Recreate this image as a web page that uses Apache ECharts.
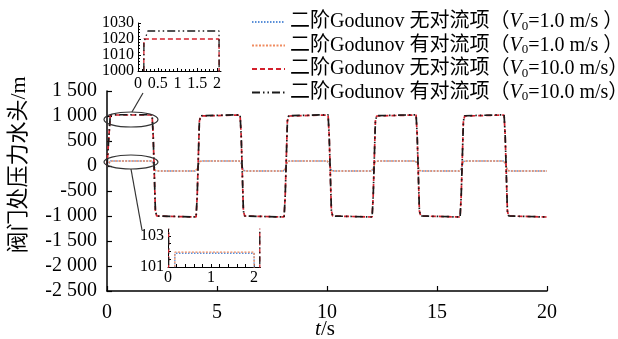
<!DOCTYPE html>
<html>
<head>
<meta charset="utf-8">
<script src="https://cdn.jsdelivr.net/npm/echarts@6/dist/echarts.min.js"></script>
<style>html,body{margin:0;padding:0;background:#fff;}#c{width:618px;height:339px;}</style>
</head>
<body>
<div id="c"></div>
<script>
// ---- data ----
const seriesNames = [
  '二阶Godunov 无对流项(V0=1.0 m/s )',
  '二阶Godunov 有对流项(V0=1.0 m/s )',
  '二阶Godunov 无对流项(V0=10.0 m/s)',
  '二阶Godunov 有对流项(V0=10.0 m/s)'
];
const legendTexts = [
  ['二阶Godunov 无对流项（', '1.0 m/s ）'],
  ['二阶Godunov 有对流项（', '1.0 m/s ）'],
  ['二阶Godunov 无对流项（', '10.0 m/s）'],
  ['二阶Godunov 有对流项（', '10.0 m/s）']
];
const xTicks = [0, 5, 10, 15, 20];
const yTickLabels = ['-2 500', '-2 000', '-1 500', '-1 000', '-500', '0', '500', '1 000', '1 500'];
const inset1XLabels = [0, 0.5, 1, 1.5, 2];
const inset1YLabels = [1000, 1010, 1020, 1030];
const inset2XLabels = [0, 1, 2];
const inset2YLabels = [101, 103];

// V0 = 1.0 m/s, without convection term (blue dotted)
const blue1 = [[0,0],[0.16,101.88],[2.0,101.88],[2.1,60],[2.2,-90],[2.26,-100],[2.35,-101.88],
  [4.0,-101.88],[4.1,-60],[4.2,90],[4.26,100],[4.35,101.88],
  [6.0,101.88],[6.1,60],[6.2,-90],[6.26,-100],[6.35,-101.88],
  [8.0,-101.88],[8.1,-60],[8.2,90],[8.26,100],[8.35,101.88],
  [10.0,101.88],[10.1,60],[10.2,-90],[10.26,-100],[10.35,-101.88],
  [12.0,-101.88],[12.1,-60],[12.2,90],[12.26,100],[12.35,101.88],
  [14.0,101.88],[14.1,60],[14.2,-90],[14.26,-100],[14.35,-101.88],
  [16.0,-101.88],[16.1,-60],[16.2,90],[16.26,100],[16.35,101.88],
  [18.0,101.88],[18.1,60],[18.2,-90],[18.26,-100],[18.35,-101.88],[20,-101.88]];
// V0 = 1.0 m/s, with convection term (orange dotted)
const orange1 = [[0,0],[0.16,101.95],[2.0,101.95],[2.1,60],[2.2,-90],[2.26,-100],[2.35,-101.95],
  [4.0,-101.95],[4.1,-60],[4.2,90],[4.26,100],[4.35,101.95],
  [6.0,101.95],[6.1,60],[6.2,-90],[6.26,-100],[6.35,-101.95],
  [8.0,-101.95],[8.1,-60],[8.2,90],[8.26,100],[8.35,101.95],
  [10.0,101.95],[10.1,60],[10.2,-90],[10.26,-100],[10.35,-101.95],
  [12.0,-101.95],[12.1,-60],[12.2,90],[12.26,100],[12.35,101.95],
  [14.0,101.95],[14.1,60],[14.2,-90],[14.26,-100],[14.35,-101.95],
  [16.0,-101.95],[16.1,-60],[16.2,90],[16.26,100],[16.35,101.95],
  [18.0,101.95],[18.1,60],[18.2,-90],[18.26,-100],[18.35,-101.95],[20,-101.95]];
// V0 = 10.0 m/s, without convection term (red dashed)
const red10 = [[0,0],[0.15,1020],[2.05,1020],[2.1,600],[2.2,-900],[2.26,-1000],[2.35,-1020],
  [4.05,-1020],[4.1,-600],[4.2,900],[4.26,1000],[4.35,1020],
  [6.05,1020],[6.1,600],[6.2,-900],[6.26,-1000],[6.35,-1020],
  [8.05,-1020],[8.1,-600],[8.2,900],[8.26,1000],[8.35,1020],
  [10.05,1020],[10.1,600],[10.2,-900],[10.26,-1000],[10.35,-1020],
  [12.05,-1020],[12.1,-600],[12.2,900],[12.26,1000],[12.35,1020],
  [14.05,1020],[14.1,600],[14.2,-900],[14.26,-1000],[14.35,-1020],
  [16.05,-1020],[16.1,-600],[16.2,900],[16.26,1000],[16.35,1020],
  [18.05,1020],[18.1,600],[18.2,-900],[18.26,-1000],[18.35,-1020],[20,-1020]];
// V0 = 10.0 m/s, with convection term (black dash-dot-dot)
const black10 = [[0,0],[0.15,1018],[0.25,1025],[2.05,1025],[2.1,600],[2.2,-900],[2.26,-1000],[2.35,-1020],
  [4.05,-1020],[4.1,-600],[4.2,900],[4.26,1005],[4.35,1025],
  [6.05,1025],[6.1,600],[6.2,-900],[6.26,-1000],[6.35,-1020],
  [8.05,-1020],[8.1,-600],[8.2,900],[8.26,1005],[8.35,1025],
  [10.05,1025],[10.1,600],[10.2,-900],[10.26,-1000],[10.35,-1020],
  [12.05,-1020],[12.1,-600],[12.2,900],[12.26,1005],[12.35,1025],
  [14.05,1025],[14.1,600],[14.2,-900],[14.26,-1000],[14.35,-1020],
  [16.05,-1020],[16.1,-600],[16.2,900],[16.26,1005],[16.35,1025],
  [18.05,1025],[18.1,600],[18.2,-900],[18.26,-1000],[18.35,-1020],[20,-1020]];

// ---- chart ----
const SERIF = "'Liberation Serif', 'Times New Roman', 'Noto Sans CJK SC', serif";
const chart = echarts.init(document.getElementById('c'), null, {renderer: 'canvas'});

const seriesData = [blue1, orange1, red10, black10];
const styles = [
  {color: '#5a8fd8', type: [1.5, 1.5], width: 1.5},
  {color: '#f08c60', type: [2, 1.5], width: 1.5},
  {color: '#d3202c', type: [5, 3], width: 1.7},
  {color: '#1a1a1a', type: [8, 3, 1.5, 3, 1.5, 3], width: 1.7}
];
const series = [];
for (let g = 0; g < 3; g++) {
  for (let i = 0; i < 4; i++) {
    series.push({
      name: seriesNames[i], type: 'line', xAxisIndex: g, yAxisIndex: g,
      data: seriesData[i], showSymbol: false, symbol: 'none', animation: false,
      clip: true, silent: true,
      lineStyle: {color: styles[i].color, type: styles[i].type, width: g === 0 ? styles[i].width : 1.3},
      itemStyle: {color: styles[i].color}
    });
  }
}

const axisCommon = {
  axisLine: {lineStyle: {color: '#000', width: 1.5}},
  axisTick: {inside: true, length: 5, lineStyle: {color: '#000', width: 1.2}},
  splitLine: {show: false},
  axisLabel: {color: '#000', fontFamily: SERIF, fontSize: 20}
};
const insetAxis = (extra) => Object.assign({
  type: 'value',
  axisLine: {onZero: false, lineStyle: {color: '#000', width: 1}},
  splitLine: {show: false}
}, extra);

const option = {
  backgroundColor: '#fff',
  animation: false,
  legend: {
    orient: 'vertical', left: 246, top: 6,
    itemWidth: 33, itemHeight: 10, itemGap: 1.5,
    data: seriesNames,
    itemStyle: {opacity: 0},
    formatter: function (name) {
      const i = seriesNames.indexOf(name);
      return '{a|' + legendTexts[i][0] + '}{i|V}{s|0}{a|=' + legendTexts[i][1] + '}';
    },
    textStyle: {
      color: '#000', fontFamily: SERIF, fontSize: 20, lineHeight: 22,
      rich: {
        a: {fontFamily: SERIF, fontSize: 20, lineHeight: 22, color: '#000'},
        i: {fontFamily: SERIF, fontSize: 20, fontStyle: 'italic', lineHeight: 22, color: '#000'},
        s: {fontFamily: SERIF, fontSize: 13, lineHeight: 22, verticalAlign: 'bottom', color: '#000'}
      }
    }
  },
  grid: [
    {left: 107, right: 71, top: 91, bottom: 48, outerBoundsMode: 'none', containLabel: false},
    {left: 138, top: 23, width: 83, height: 48, outerBoundsMode: 'none', containLabel: false},
    {left: 168, top: 229.5, width: 92.5, height: 37.5, outerBoundsMode: 'none', containLabel: false}
  ],
  xAxis: [
    Object.assign({}, axisCommon, {
      type: 'value', gridIndex: 0, min: 0, max: 20, interval: 5,
      axisLine: {onZero: false, lineStyle: {color: '#000', width: 1.5}},
      axisLabel: {color: '#000', fontFamily: SERIF, fontSize: 20, margin: 12,
        formatter: v => xTicks.indexOf(v) >= 0 ? String(v) : ''}
    }),
    insetAxis({gridIndex: 1, min: 0, max: 2.1,
      axisTick: {inside: true, length: 3, customValues: inset1XLabels, lineStyle: {color: '#000'}},
      minorTick: {show: true, splitNumber: 5, length: 2, lineStyle: {color: '#000'}},
      axisLabel: {customValues: inset1XLabels, color: '#000', fontFamily: SERIF, fontSize: 16, margin: 5}
    }),
    insetAxis({gridIndex: 2, min: 0, max: 2.15,
      axisTick: {inside: true, length: 3, customValues: [0,0.2,0.4,0.6,0.8,1,1.2,1.4,1.6,1.8,2], lineStyle: {color: '#000'}},
      axisLabel: {customValues: inset2XLabels, color: '#000', fontFamily: SERIF, fontSize: 16, margin: 3}
    })
  ],
  yAxis: [
    Object.assign({}, axisCommon, {
      type: 'value', gridIndex: 0, min: -2500, max: 1500, interval: 500,
      axisLabel: {color: '#000', fontFamily: SERIF, fontSize: 20, margin: 10,
        formatter: v => yTickLabels[Math.round((v + 2500) / 500)]}
    }),
    insetAxis({gridIndex: 1, min: 1000, max: 1030, interval: 10,
      axisTick: {inside: true, length: 3, lineStyle: {color: '#000'}},
      minorTick: {show: true, splitNumber: 5, length: 2, lineStyle: {color: '#000'}},
      axisLabel: {color: '#000', fontFamily: SERIF, fontSize: 16, margin: 4,
        formatter: v => inset1YLabels.indexOf(v) >= 0 ? String(v) : ''}
    }),
    insetAxis({gridIndex: 2, min: 101, max: 103.4,
      axisTick: {inside: true, length: 3, customValues: [101,101.5,102,102.5,103], lineStyle: {color: '#000'}},
      axisLabel: {customValues: inset2YLabels, color: '#000', fontFamily: SERIF, fontSize: 16, margin: 4}
    })
  ],
  series: series
};
chart.setOption(option);

// annotations: ellipses around the regions shown in the insets, with leader lines, axis titles
const e1 = chart.convertToPixel({gridIndex: 0}, [1.09, 930]);
const e2 = chart.convertToPixel({gridIndex: 0}, [1.09, 80]);
const xMid = chart.convertToPixel({gridIndex: 0}, [10, -2500]);
chart.setOption({
  graphic: [
    {type: 'ellipse', shape: {cx: e1[0], cy: e1[1], rx: 27, ry: 7.5}, style: {fill: 'none', stroke: '#333', lineWidth: 1.2}, z: 100},
    {type: 'ellipse', shape: {cx: e2[0], cy: e2[1], rx: 27, ry: 7}, style: {fill: 'none', stroke: '#333', lineWidth: 1.2}, z: 100},
    {type: 'line', shape: {x1: e1[0] + 1, y1: e1[1] - 7.5, x2: 143, y2: 93}, style: {stroke: '#333', lineWidth: 1.2}, z: 100},
    {type: 'line', shape: {x1: e2[0], y1: e2[1] + 7, x2: 142, y2: 230}, style: {stroke: '#333', lineWidth: 1.2}, z: 100},
    {type: 'text', x: 19, y: 165, rotation: Math.PI / 2,
      style: {text: '阀门处压力水头/m', fontFamily: SERIF, fontSize: 22, fill: '#000', align: 'center', verticalAlign: 'middle'}},
    {type: 'text', x: xMid[0] - 2, y: xMid[1] + 38,
      style: {text: '{i|t}{a|/s}', align: 'center', verticalAlign: 'middle',
        rich: {
          i: {fontFamily: SERIF, fontSize: 21, fontStyle: 'italic', fill: '#000'},
          a: {fontFamily: SERIF, fontSize: 21, fill: '#000'}
        }}}
  ]
});
</script>
</body>
</html>
